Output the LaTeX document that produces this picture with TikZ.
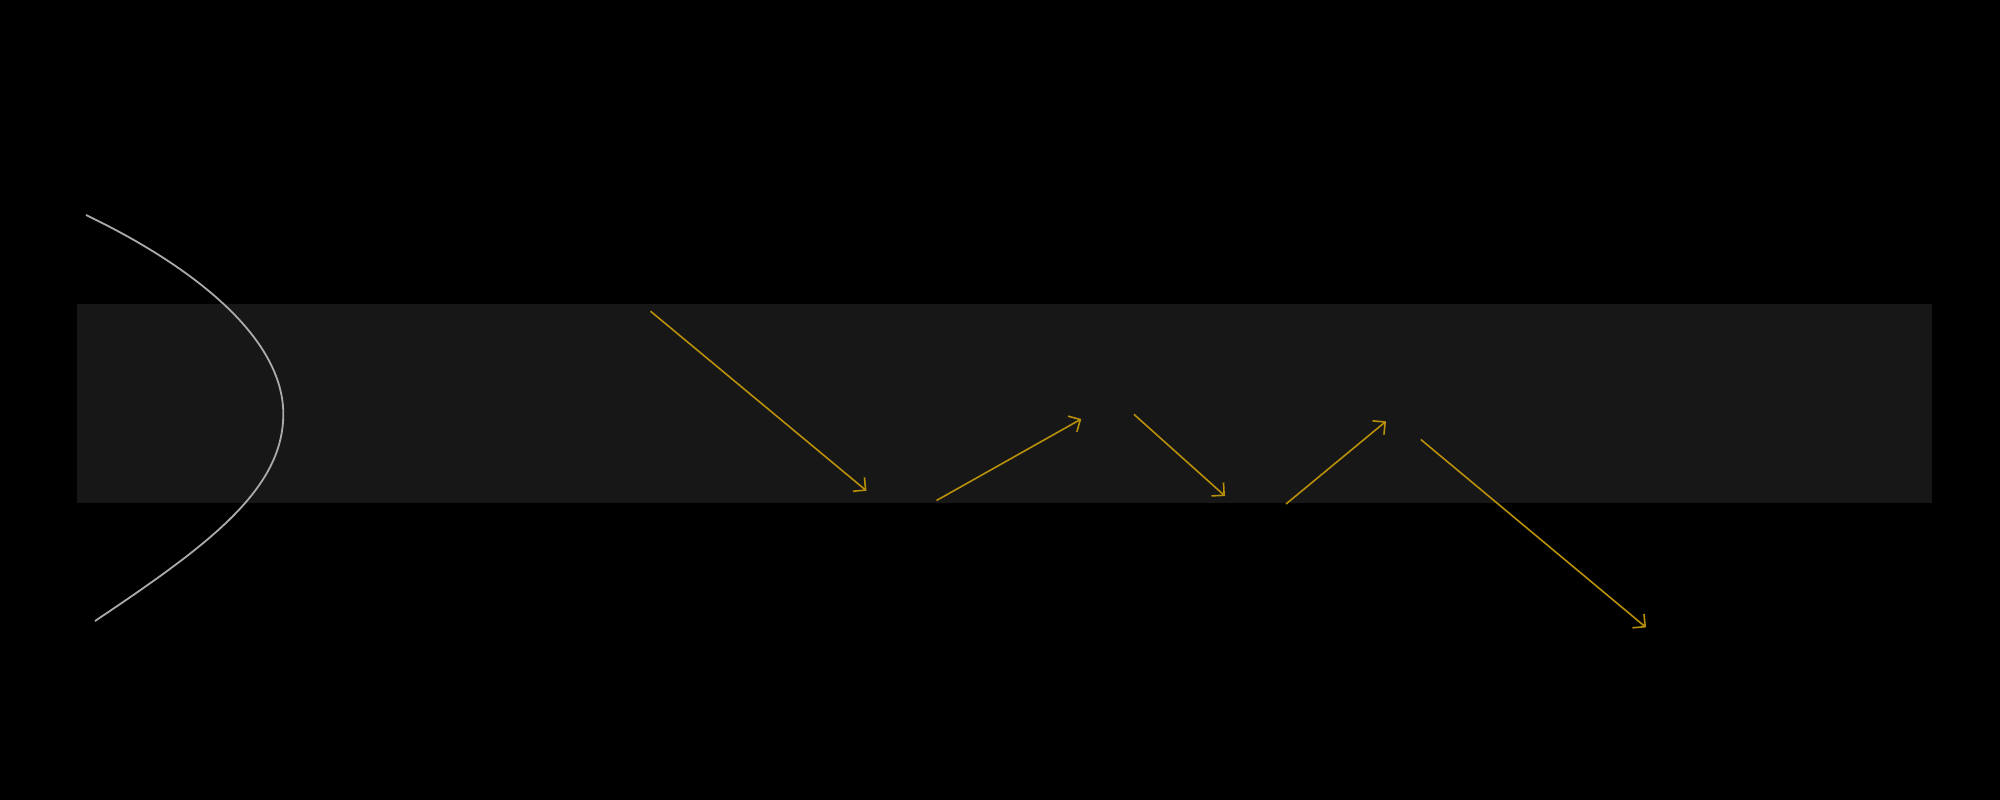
\documentclass[tikz,border=0pt]{standalone}
\usetikzlibrary{arrows.meta}
\definecolor{band}{RGB}{23,23,23}
\definecolor{ray}{RGB}{184,144,10}
\definecolor{curvegray}{RGB}{170,170,170}
\tikzset{
  ray/.style={draw=ray, line width=1.6pt, -{Straight Barb[length=9pt,width=18pt,line width=1.6pt]}},
  mirror/.style={draw=curvegray, line width=1.8pt}
}
\begin{document}
\begin{tikzpicture}[x=1pt,y=-1pt]
\fill[black] (0,0) rectangle (2000,800);
\useasboundingbox (0,0) rectangle (2000,800);
\fill[band] (77,304) rectangle (1932,503);
\coordinate (mt) at (86,215);
\coordinate (mv) at (283.3,414);
\coordinate (mb) at (95,621);
\draw[mirror] (mt) .. controls (196,267.8) and (283.3,339) .. (mv)
  .. controls (283.3,489) and (210,544) .. (mb);
\coordinate (a1s) at (650.5,311.2);
\coordinate (a1e) at (866.5,490.8);
\coordinate (a2s) at (936.5,500.5);
\coordinate (a2e) at (1081.3,419);
\coordinate (a3s) at (1134,414.4);
\coordinate (a3e) at (1225,496);
\coordinate (a4s) at (1286,504);
\coordinate (a4e) at (1386,421.3);
\coordinate (a5s) at (1420.8,439.5);
\coordinate (a5e) at (1646,627.4);
\draw[ray] (a1s) -- (a1e);
\draw[ray] (a2s) -- (a2e);
\draw[ray] (a3s) -- (a3e);
\draw[ray] (a4s) -- (a4e);
\draw[ray] (a5s) -- (a5e);
\end{tikzpicture}
\end{document}
